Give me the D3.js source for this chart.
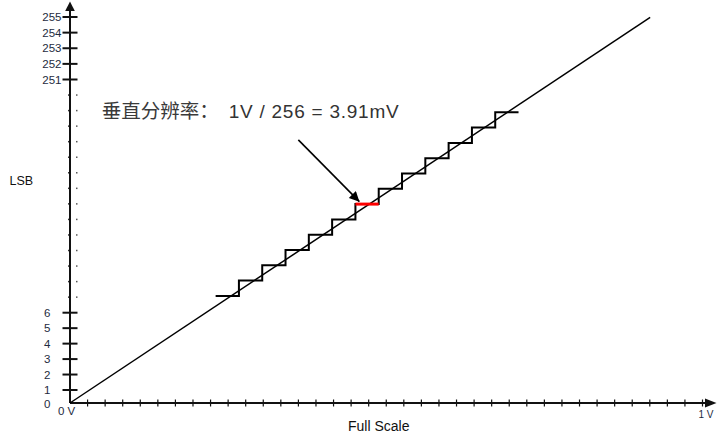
<!DOCTYPE html>
<html><head><meta charset="utf-8">
<script src="https://cdn.jsdelivr.net/npm/d3@7"></script>
<style>html,body{margin:0;padding:0;background:#fff;}svg{display:block;}</style>
</head><body>
<script>
// ---- data ----
const lowTicks = [0, 1, 2, 3, 4, 5, 6];
const highTicks = [251, 252, 253, 254, 255];
const xTickCount = 36;               // minor ticks along Full Scale (0 V .. 1 V)
const xLabels = [{v: 0, t: "0 V"}, {v: 1, t: "1 V"}];
const gapDots = 14;                  // dots between code 6 and code 251
const stepCodes = [7, 8, 9, 10, 11, 12, 13, 14, 15, 16, 17, 18, 19];
const highlightCode = 13;
const idealX = [0, 24.9];
const idealY = [0, 25.2];
const annotationCJK = "垂直分辨率：";
const annotationFormula = "1V / 256 = 3.91mV";
const annotationPos = [1.36, 18.6];
const arrowFrom = [9.8, 17.2];
const arrowTo = [12.42, 13.16];
const yTitle = "LSB";
const xTitle = "Full Scale";

const W = 720, H = 445;
const svg = d3.select("body").append("svg").attr("width", W).attr("height", H);
const defs = svg.append("defs");

// scales
const xV = d3.scaleLinear().domain([0, 1]).range([70, 702.5]);
const yCode = d3.scaleLinear().domain([0, 1, 6, 251, 255]).range([403, 390, 312.7, 79.5, 17]);
const sx = d3.scaleLinear().domain([0, 25]).range([70, 652.5]);
const sy = d3.scaleLinear().domain([0, 25]).range([403, 20.5]);

const axisColor = "#111";
const labelColor = "#1e2b40";
const sans = "Liberation Sans, Arial, sans-serif";

// ---- Y axis ----
svg.append("line").attr("x1", xV(0)).attr("x2", xV(0)).attr("y1", yCode(0)).attr("y2", 9)
  .attr("stroke", axisColor).attr("stroke-width", 2);
svg.append("path").attr("d", d3.line()([[xV(0), 1.5], [xV(0) - 4.8, 11], [xV(0) + 4.8, 11]]) + "Z")
  .attr("fill", axisColor);

const tickVals = lowTicks.filter(d => d !== 0).concat(highTicks);
svg.append("g").selectAll("line").data(tickVals).join("line")
  .attr("x1", xV(0) - 7.5).attr("x2", xV(0) + 7.5)
  .attr("y1", d => yCode(d)).attr("y2", d => yCode(d))
  .attr("stroke", axisColor).attr("stroke-width", 2);

svg.append("g").selectAll("text").data(lowTicks).join("text")
  .attr("x", 44).attr("y", d => d === 0 ? yCode(d) + 0.5 : yCode(d))
  .attr("dy", "0.35em")
  .attr("font-family", sans).attr("font-size", 11.5)
  .attr("fill", labelColor).text(d => d);

svg.append("g").selectAll("text").data(highTicks).join("text")
  .attr("x", 61.5).attr("y", d => yCode(d)).attr("dy", "0.35em")
  .attr("text-anchor", "end")
  .attr("font-family", sans).attr("font-size", 11.5)
  .attr("fill", labelColor).text(d => d);

// gap dots
const gapStep = (yCode(6) - yCode(251)) / (gapDots + 1);
const dots = d3.range(1, gapDots + 1).map(k => yCode(6) - k * gapStep);
svg.append("g").selectAll("rect").data(dots).join("rect")
  .attr("x", xV(0) + 6).attr("y", d => d - 0.75).attr("width", 1.5).attr("height", 1.5)
  .attr("fill", "#555");
svg.append("g").selectAll("rect").data(dots).join("rect")
  .attr("x", xV(0) - 2).attr("y", d => d - 0.75).attr("width", 1).attr("height", 1.5)
  .attr("fill", "#333");

// ---- X axis ----
svg.append("line").attr("x1", xV(0)).attr("x2", 707).attr("y1", 403).attr("y2", 403)
  .attr("stroke", axisColor).attr("stroke-width", 2);
svg.append("path").attr("d", d3.line()([[716.5, 403], [705, 398.5], [705, 407.5]]) + "Z")
  .attr("fill", axisColor);
const xt = d3.range(1, xTickCount + 1).map(k => k / xTickCount);
svg.append("g").selectAll("line").data(xt).join("line")
  .attr("x1", d => xV(d)).attr("x2", d => xV(d)).attr("y1", 399.5).attr("y2", 406.5)
  .attr("stroke", axisColor).attr("stroke-width", 1.2);

svg.append("text").attr("x", 58).attr("y", 415).attr("font-family", sans)
  .attr("font-size", 11.5).attr("fill", labelColor).text(xLabels[0].t);
svg.append("text").attr("x", xV(xLabels[1].v) + 3.5).attr("y", 417.5).attr("text-anchor", "middle")
  .attr("font-family", sans)
  .attr("font-size", 10).attr("fill", labelColor).text(xLabels[1].t);

// titles
svg.append("text").attr("x", 9.5).attr("y", 185).attr("font-family", sans)
  .attr("font-size", 12.5).attr("fill", "#111").text(yTitle);
svg.append("text").attr("x", 348).attr("y", 430.5).attr("font-family", sans)
  .attr("font-size", 14).attr("fill", "#111").text(xTitle);

// ---- ideal transfer line ----
svg.append("path")
  .attr("d", d3.line().x(d => sx(d[0])).y(d => sy(d[1]))(idealX.map((x, i) => [x, idealY[i]])))
  .attr("stroke", "#000").attr("stroke-width", 1.5).attr("fill", "none");

// ---- staircase ----
const stairPts = stepCodes.map(c => [c - 0.75, c]);
stairPts.push([stepCodes[stepCodes.length - 1] + 0.25, stepCodes[stepCodes.length - 1]]);
svg.append("path")
  .attr("d", d3.line().x(d => sx(d[0])).y(d => sy(d[1])).curve(d3.curveStepAfter)(stairPts))
  .attr("stroke", "#000").attr("stroke-width", 2).attr("fill", "none");

svg.append("line")
  .attr("x1", sx(highlightCode - 0.75)).attr("x2", sx(highlightCode + 0.25))
  .attr("y1", sy(highlightCode)).attr("y2", sy(highlightCode))
  .attr("stroke", "#ff0000").attr("stroke-width", 3);

// ---- annotation ----
defs.append("marker").attr("id", "ah").attr("viewBox", "0 0 10 10").attr("refX", 10).attr("refY", 5)
  .attr("markerWidth", 12).attr("markerHeight", 10).attr("markerUnits", "userSpaceOnUse")
  .attr("orient", "auto")
  .append("path").attr("d", "M0,0L10,5L0,10Z").attr("fill", "#000");
svg.append("line")
  .attr("x1", sx(arrowFrom[0])).attr("y1", sy(arrowFrom[1]))
  .attr("x2", sx(arrowTo[0])).attr("y2", sy(arrowTo[1]))
  .attr("stroke", "#000").attr("stroke-width", 1.6).attr("marker-end", "url(#ah)");

const ann = svg.append("text").attr("x", sx(annotationPos[0])).attr("y", sy(annotationPos[1]))
  .attr("fill", "#333");
ann.append("tspan").attr("font-family", "Noto Sans CJK SC, sans-serif").attr("font-size", 19.5)
  .attr("fill", "#3a3a3a").text(annotationCJK);
ann.append("tspan").attr("dx", 10).attr("font-family", sans).attr("font-size", 19)
  .attr("textLength", 170).attr("lengthAdjust", "spacing").text(annotationFormula);
</script>
</body></html>
